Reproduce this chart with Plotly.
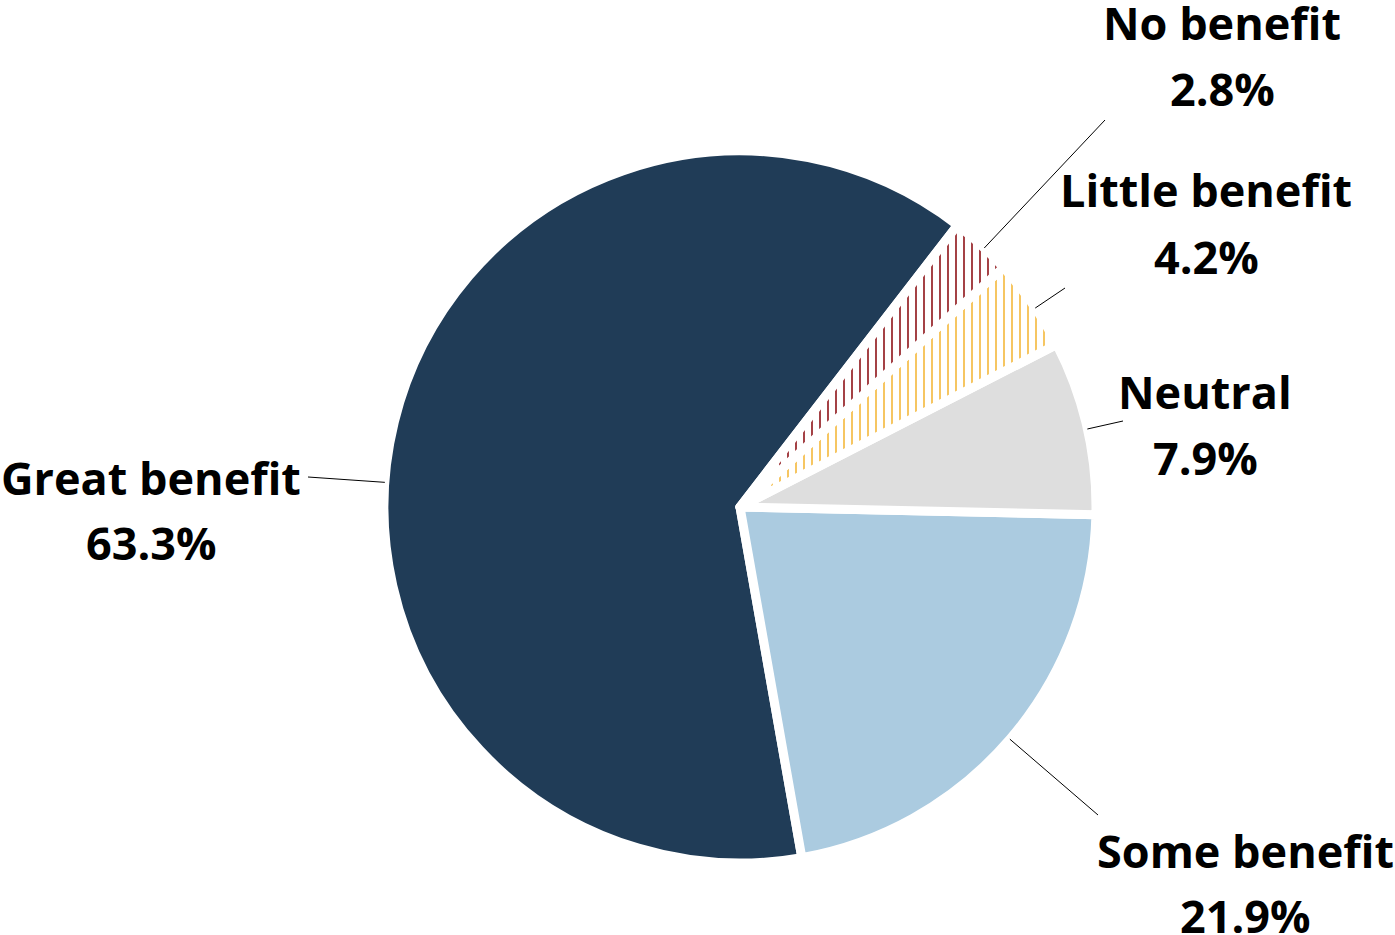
import math
import plotly.graph_objects as go

# Survey responses: perceived benefit
labels = ["Great benefit", "Some benefit", "Neutral", "Little benefit", "No benefit"]
values = [63.3, 21.9, 7.9, 4.2, 2.8]

# Slice styling
colors = ["#203C57", "#ABCBE0", "#DEDEDE", "#FFFFFF", "#FFFFFF"]
hatch_shapes = ["", "", "", "|", "|"]
hatch_colors = ["#203C57", "#ABCBE0", "#DEDEDE", "#F4B83A", "#8E1116"]

# Canvas and pie geometry (pixels)
W, H = 1395, 935
CX, CY, R = 740, 507, 356
# counterclockwise layout: the first slice ends here (degrees clockwise from 12 o'clock)
ROTATION = 170

# Label placement: name centre (x, y), value centre y, leader-line end point (x, y)
label_pos = {
    "Great benefit": (151, 477, 542, 308, 477),
    "Some benefit": (1245, 850, 915, 1098, 815),
    "Neutral": (1205, 392, 457, 1123, 421),
    "Little benefit": (1206, 189, 256, 1065, 288),
    "No benefit": (1222, 22, 88, 1105, 120),
}

FONT = "Open Sans"
FONT_SIZE = 45


def px(x):
    return x / W


def py(y):
    return 1 - y / H


fig = go.Figure(
    go.Pie(
        labels=labels,
        values=values,
        sort=False,
        direction="counterclockwise",
        rotation=ROTATION,
        textinfo="none",
        hoverinfo="label+percent",
        showlegend=False,
        marker=dict(
            colors=colors,
            line=dict(color="#FFFFFF", width=9),
            pattern=dict(
                shape=hatch_shapes,
                fgcolor=hatch_colors,
                bgcolor=colors,
                size=8,
                solidity=0.2,
                fillmode="replace",
            ),
        ),
        domain=dict(x=[px(CX - R), px(CX + R)], y=[py(CY + R), py(CY - R)]),
    )
)

# Angular extent of each slice (degrees clockwise from 12 o'clock)
total = sum(values)
spans = []
start = ROTATION + values[0] / total * 360
for v in values:
    sweep = v / total * 360
    spans.append((start - sweep, start))
    start -= sweep

annotations = []
shapes = []
for name, v, (lo, hi) in zip(labels, values, spans):
    nx, ny, vy, ex, ey = label_pos[name]
    annotations.append(dict(
        x=px(nx), y=py(ny), xref="paper", yref="paper", text=f"<b>{name}</b>",
        showarrow=False, xanchor="center", yanchor="middle",
        font=dict(family=FONT, size=FONT_SIZE, color="#000000"),
    ))
    annotations.append(dict(
        x=px(nx), y=py(vy), xref="paper", yref="paper", text=f"<b>{v:.1f}%</b>",
        showarrow=False, xanchor="center", yanchor="middle",
        font=dict(family=FONT, size=FONT_SIZE, color="#000000"),
    ))
    # leader line runs radially from the slice rim toward the label
    ang = math.degrees(math.atan2(ex - CX, -(ey - CY)))
    while ang < lo:
        ang += 360
    while ang > hi:
        ang -= 360
    ang = min(max(ang, lo), hi)
    a = math.radians(ang)
    sx, sy = CX + R * math.sin(a), CY - R * math.cos(a)
    shapes.append(dict(
        type="line", xref="paper", yref="paper",
        x0=px(sx), y0=py(sy), x1=px(ex), y1=py(ey),
        line=dict(color="#000000", width=1),
    ))

fig.update_layout(
    width=W,
    height=H,
    margin=dict(l=0, r=0, t=0, b=0),
    paper_bgcolor="#FFFFFF",
    plot_bgcolor="#FFFFFF",
    annotations=annotations,
    shapes=shapes,
)

fig.write_html("out.html")
